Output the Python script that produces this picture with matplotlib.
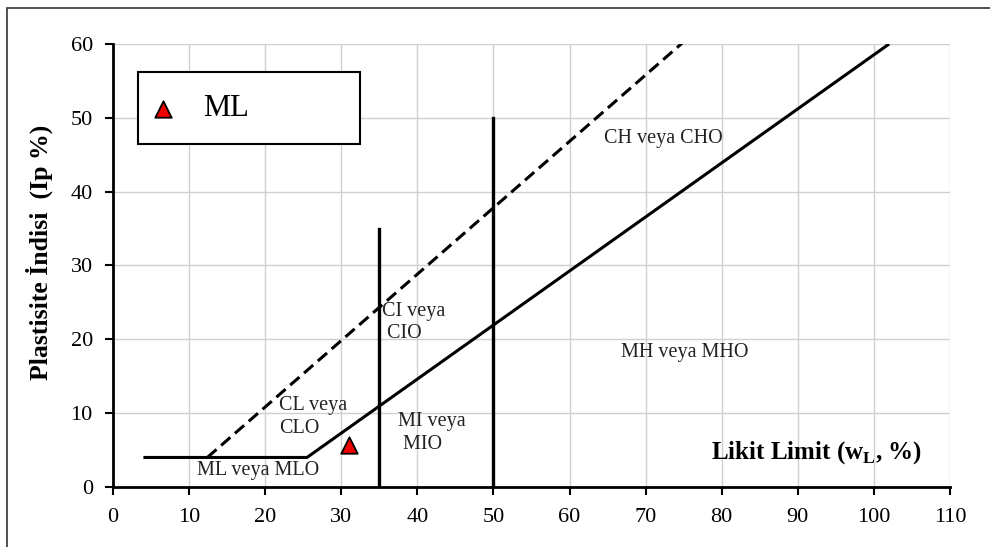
import matplotlib.pyplot as plt
from matplotlib.patches import Rectangle

plt.rcParams['font.family'] = ['Liberation Serif', 'DejaVu Serif']

# A-line (with the flat part at Ip = 4) and U-line
a_line_x = [4, 25.5, 102]
a_line_y = [4, 4, 60]
u_line_x = [12.4, 75]
u_line_y = [4, 60.3]
# vertical boundaries (x, top)
vert_x = [35, 50]
vert_top = [35, 50]

# sample
sample_name = 'ML'
sample_x = [31]
sample_y = [5.7]

zones = ['CH veya CHO', 'MH veya MHO', 'CI veya\n CIO', 'CL veya\nCLO',
         'MI veya\n MIO', 'ML veya MLO']
zone_x = [72.3, 75.2, 35.4, 21.8, 37.4, 19.1]
zone_y = [47.2, 18.2, 22.3, 9.5, 7.3, 2.3]
zone_ha = ['center', 'center', 'left', 'left', 'left', 'center']

fig = plt.figure(figsize=(9.9, 5.47), dpi=100)
ax = fig.add_axes([0.1141, 0.1097, 0.8455, 0.8099])

# outer frame
fig.patches.append(Rectangle((7 / 990, -0.1), 1.2, 1 - 8 / 547 + 0.1,
                             transform=fig.transFigure, fill=False,
                             edgecolor='#333333', lw=1.2, zorder=0))

ax.plot(a_line_x, a_line_y, color='black', lw=2.2, solid_capstyle='butt')
ax.plot(u_line_x, u_line_y, color='black', lw=2.2, ls=(0, (4, 2)))
for x, top in zip(vert_x, vert_top):
    ax.plot([x, x], [0, top], color='black', lw=2.4)

ax.scatter(sample_x, sample_y, marker='^', s=140, color='#ee0000',
           edgecolor='black', linewidth=1.3, zorder=5)

for t, x, y, ha in zip(zones, zone_x, zone_y, zone_ha):
    ax.text(x, y, t, ha=ha, va='center', fontsize=14.5, color='#222222',
            linespacing=1.25)

ax.text(106.3, 4.6, r'Likit Limit (w$_\mathregular{L}$, %)', ha='right',
        va='center', fontsize=18, fontweight='bold')

# legend box
ax.add_patch(Rectangle((3.3, 46.4), 29.2, 9.8, facecolor='white',
                       edgecolor='black', lw=1.5, zorder=4))
ax.scatter([6.6], [51.2], marker='^', s=140, color='#ee0000',
           edgecolor='black', linewidth=1.3, zorder=6)
ax.text(11.8, 51.2, sample_name, ha='left', va='center', fontsize=22,
        zorder=6)

ax.set_xlim(0, 110)
ax.set_ylim(0, 60)
ax.set_xticks(range(0, 111, 10))
ax.set_yticks(range(0, 61, 10))
ax.grid(True, color='#d0d0d0', lw=1)
ax.set_axisbelow(True)
for s in ['top', 'right']:
    ax.spines[s].set_visible(False)
for s in ['left', 'bottom']:
    ax.spines[s].set_linewidth(2)
ax.tick_params(direction='out', length=6, width=1.5, labelsize=16,
               colors='black')
ax.tick_params(axis='x', pad=9)
ax.tick_params(axis='y', pad=8.5)

ax.set_ylabel('Plastisite İndisi  (Ip %)', fontsize=18.5, fontweight='bold')
ax.yaxis.set_label_coords(-0.072, 0.53)

fig.savefig('out.png', dpi=100)
